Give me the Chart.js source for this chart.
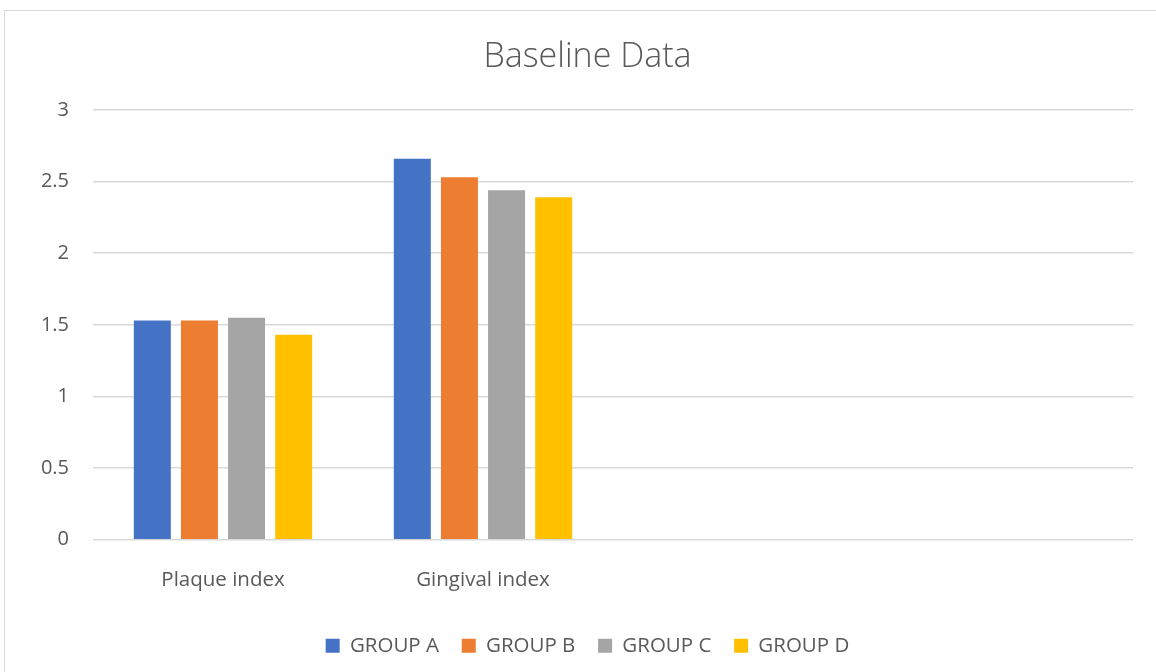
<!DOCTYPE html>
<html>
<head>
<meta charset="utf-8">
<script src="https://cdn.jsdelivr.net/npm/chart.js@4.4.1/dist/chart.umd.min.js"></script>
<style>
  html, body { margin: 0; padding: 0; background: #fff; overflow: hidden; }
  #frame { position: absolute; left: 4px; top: 10px; width: 1170px; height: 680px; border: 1px solid #d9d9d9; box-sizing: border-box; }
  #wrap { position: absolute; left: 0; top: 0; width: 1156px; height: 672px; }
</style>
</head>
<body>
<div id="frame"></div>
<div id="wrap"><canvas id="chart" width="1156" height="672"></canvas></div>
<script>
// Categories along the x axis (the last two slots are left blank)
const categories = ['Plaque index', 'Gingival index', '', ''];

// Baseline scores per group
const groupA = [1.53, 2.66, null, null];
const groupB = [1.53, 2.53, null, null];
const groupC = [1.55, 2.44, null, null];
const groupD = [1.43, 2.39, null, null];

// Value axis ticks
const yTicks = [0, 0.5, 1, 1.5, 2, 2.5, 3];

const seriesNames = ['GROUP A', 'GROUP B', 'GROUP C', 'GROUP D'];
const seriesColors = ['#4472C4', '#ED7D31', '#A5A5A5', '#FFC000'];

const textColor = '#595959';
const fontFamily = "'Open Sans', 'Liberation Sans', sans-serif";

const datasets = [groupA, groupB, groupC, groupD].map((values, i) => ({
  label: seriesNames[i],
  data: values,
  backgroundColor: seriesColors[i],
  borderWidth: 0,
  categoryPercentage: 0.725,
  barPercentage: 0.785
}));

new Chart(document.getElementById('chart'), {
  type: 'bar',
  data: { labels: categories, datasets },
  options: {
    responsive: false,
    animation: false,
    layout: { padding: { left: 42, right: 23, top: 0, bottom: 6 } },
    plugins: {
      title: {
        display: true,
        text: 'Baseline Data',
        color: textColor,
        font: { family: fontFamily, size: 34, weight: '300', lineHeight: 1.2 },
        padding: { top: 37, bottom: 32.2 }
      },
      legend: {
        position: 'bottom',
        labels: {
          color: textColor,
          font: { family: fontFamily, size: 20.5 },
          boxWidth: 14,
          boxHeight: 14,
          padding: 22.75
        }
      },
      tooltip: { enabled: false }
    },
    scales: {
      x: {
        grid: { display: false, drawTicks: false },
        border: { display: false },
        ticks: { color: textColor, font: { family: fontFamily, size: 20.5 }, padding: 28, maxRotation: 0 },
        afterFit: (scale) => { scale.height = 73.1; }
      },
      y: {
        min: 0,
        max: 3,
        afterBuildTicks: (axis) => { axis.ticks = yTicks.map(v => ({ value: v })); },
        grid: { color: '#d9d9d9', lineWidth: 1.5, drawTicks: false },
        border: { display: false },
        ticks: { color: textColor, font: { family: fontFamily, size: 20 }, padding: 24, callback: (v) => String(v) },
        afterFit: (scale) => { scale.width = 51; }
      }
    }
  }
});
</script>
</body>
</html>
